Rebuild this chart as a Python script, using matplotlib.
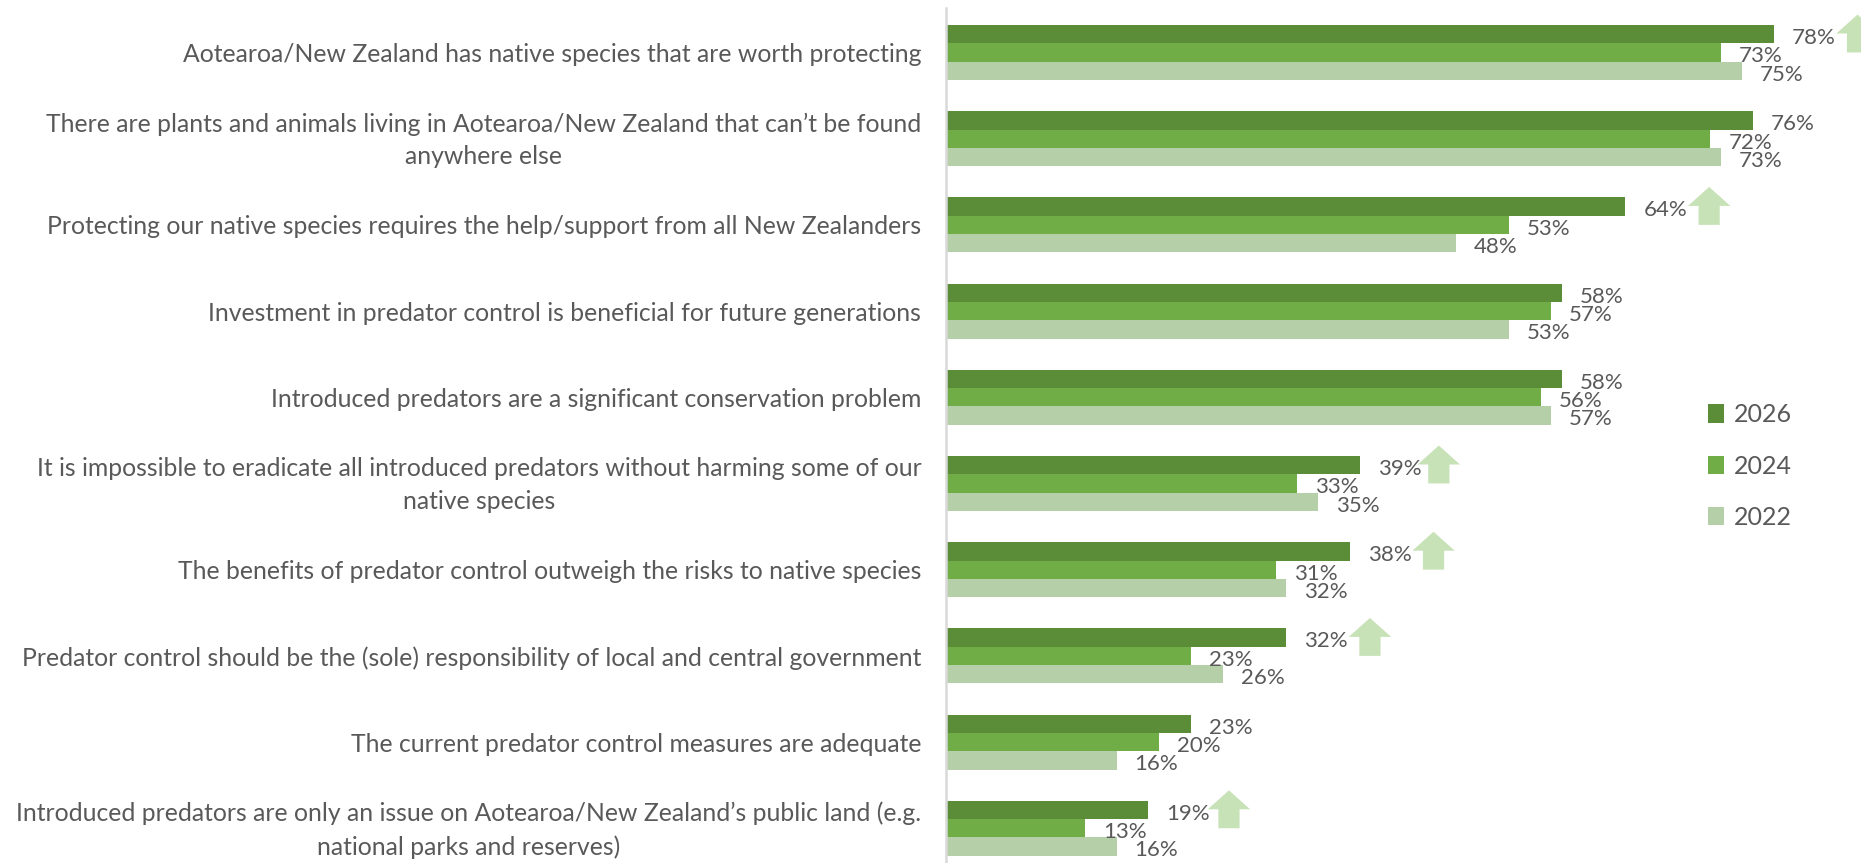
import numpy as np
import matplotlib
matplotlib.use("Agg")
import matplotlib.pyplot as plt
from matplotlib.patches import Patch, Polygon
from matplotlib.transforms import ScaledTranslation

statements = [
    "Aotearoa/New Zealand has native species that are worth protecting",
    "There are plants and animals living in Aotearoa/New Zealand that can\u2019t be found\nanywhere else",
    "Protecting our native species requires the help/support from all New Zealanders",
    "Investment in predator control is beneficial for future generations",
    "Introduced predators are a significant conservation problem",
    "It is impossible to eradicate all introduced predators without harming some of our\nnative species",
    "The benefits of predator control outweigh the risks to native species",
    "Predator control should be the (sole) responsibility of local and central government",
    "The current predator control measures are adequate",
    "Introduced predators are only an issue on Aotearoa/New Zealand\u2019s public land (e.g.\nnational parks and reserves)",
]
values_2026 = [78, 76, 64, 58, 58, 39, 38, 32, 23, 19]
values_2024 = [73, 72, 53, 57, 56, 33, 31, 23, 20, 13]
values_2022 = [75, 73, 48, 53, 57, 35, 32, 26, 16, 16]
series_years = ["2026", "2024", "2022"]
series_colors = ["#5B8C38", "#70AD47", "#B5CFA8"]
rising_rows = [0, 2, 5, 6, 7, 9]
arrow_gaps = [7.9, 7.9, 7.4, 7.9, 7.9, 7.6]

TEXT = "#595959"
ARROW = "#C8E2B8"
FONT = "Lato"
W, H = 1861, 863

plt.rcParams["font.family"] = [FONT, "DejaVu Sans"]
fig = plt.figure(figsize=(W / 100, H / 100), dpi=100, facecolor="white")
ax = fig.add_axes([947 / W, 0, 1 - 947 / W, 1 - 8 / H])

# Moving a spine resets the ticks, so this comes before any tick setup
for side in ("top", "right", "bottom"):
    ax.spines[side].set_visible(False)
ax.spines["left"].set_color("#D9D9D9")
ax.spines["left"].set_linewidth(1.8)
ax.spines["left"].set_position(("outward", 0.9))

ax.set_xlim(0, (W - 947) / 10.6)
ax.set_ylim(9.403, -0.516)

rows = np.arange(len(statements))
bar_h = 0.2125
all_series = [values_2026, values_2024, values_2022]
for k, (vals, year, col) in enumerate(zip(all_series, series_years, series_colors)):
    bars = ax.barh(rows + (k - 1) * bar_h, vals, height=bar_h, color=col, label=year, linewidth=0)
    for ann in ax.bar_label(bars, fmt="%d%%", padding=13, fontsize=16, color=TEXT):
        # Value labels sit slightly below the centre of their bars
        x_off, y_off = ann.xyann
        ann.xyann = (x_off, y_off - 2.8)

# Up arrows flag the statements that rose since the previous wave
for r, gap in zip(rising_rows, arrow_gaps):
    cx = values_2026[r] + gap
    tip = r - 0.44
    w_head, w_shaft = 2.0, 1.0
    ax.add_patch(Polygon([
        (cx, tip), (cx + w_head, tip + 0.22), (cx + w_shaft, tip + 0.22),
        (cx + w_shaft, tip + 0.44), (cx - w_shaft, tip + 0.44),
        (cx - w_shaft, tip + 0.22), (cx - w_head, tip + 0.22),
    ], closed=True, facecolor=ARROW, edgecolor="none", clip_on=True, zorder=3))

ax.set_yticks(rows, statements)
ax.tick_params(axis="y", length=0, pad=17.6, labelsize=17.8, labelcolor=TEXT)
lift = ScaledTranslation(0, 3.6 / 72, fig.dpi_scale_trans)
for lab in ax.get_yticklabels():
    lab.set_multialignment("center")
    lab.set_linespacing(1.5)
    # Two-line labels are centred on their bar group
    if "\n" in lab.get_text():
        lab.set_transform(lab.get_transform() + lift)
ax.set_xticks([])

handles = [Patch(facecolor=c, edgecolor="none", label=y) for y, c in zip(series_years, series_colors)]
ax.legend(handles=handles, loc="center left", bbox_to_anchor=((1708 - 947) / (W - 947), 1 - (466 - 8) / (H - 8)),
          frameon=False, fontsize=18, labelcolor=TEXT, handlelength=0.65, handleheight=0.75,
          handletextpad=0.4, labelspacing=1.13, borderpad=0, borderaxespad=0)

fig.savefig("out.png", dpi=100)
